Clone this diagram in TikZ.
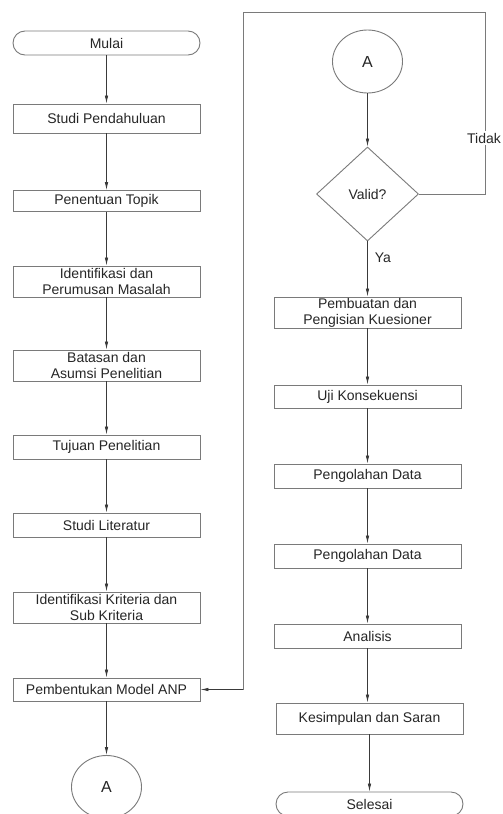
\documentclass[tikz,border=0pt]{standalone}
\usepackage{fontspec}
\setmainfont{Liberation Sans}
\usetikzlibrary{arrows.meta,shapes.geometric}
\definecolor{boxline}{HTML}{7A7A7A}
\definecolor{arrline}{HTML}{3A3A3A}
\tikzset{
  flowbox/.style={draw=boxline, line width=0.9pt, minimum width=187pt, inner sep=0pt, align=center, font=\fontsize{14}{16}\selectfont, text=black!85},
  termbox/.style={flowbox, rounded corners=12pt, minimum height=24pt},
  connector/.style={draw=boxline, line width=0.9pt, ellipse, minimum width=70pt, minimum height=63pt, inner sep=0pt, font=\fontsize{16}{18}\selectfont, text=black!85},
  decision/.style={draw=boxline, line width=0.9pt, diamond, minimum width=102pt, minimum height=94pt, inner sep=0pt, font=\fontsize{14}{16}\selectfont, text=black!85},
  flowarrow/.style={draw=arrline, line width=0.7pt, -{Latex[length=8pt,width=3.5pt]}},
  loopline/.style={draw=boxline, line width=0.9pt},
  lbl/.style={font=\fontsize{14}{16}\selectfont, text=black!85, inner sep=1pt}
}
\begin{document}
\begin{tikzpicture}[x=1pt,y=-1pt]
\useasboundingbox[fill=white] (0,0) rectangle (503,814);
% left column
\node[termbox] (mulai) at (106.5,43) {Mulai};
\node[flowbox, minimum height=29pt] (studi) at (106.5,118.5) {Studi Pendahuluan};
\node[flowbox, minimum height=21pt] (topik) at (106.5,201) {Penentuan Topik};
\node[flowbox, minimum height=31pt] (ident) at (106.5,281.5) {Identifikasi dan\\Perumusan Masalah};
\node[flowbox, minimum height=31pt] (batas) at (106.5,365.5) {Batasan dan\\Asumsi Penelitian};
\node[flowbox, minimum height=24pt] (tujuan) at (106.5,447) {Tujuan Penelitian};
\node[flowbox, minimum height=24pt] (lit) at (106.5,525) {Studi Literatur};
\node[flowbox, minimum height=31pt] (krit) at (106.5,607.5) {Identifikasi Kriteria dan\\Sub Kriteria};
\node[flowbox, minimum height=23pt] (anp) at (106.5,689.5) {Pembentukan Model ANP};
\node[connector] (conA1) at (106.5,787) {A};
% right column
\node[connector] (conA2) at (367.5,61.5) {A};
\node[decision] (valid) at (367.5,194) {Valid?};
\node[flowbox, minimum height=31pt] (kues) at (367.5,312.5) {Pembuatan dan\\Pengisian Kuesioner};
\node[flowbox, minimum height=23pt] (uji) at (367.5,396.5) {Uji Konsekuensi};
\node[flowbox, minimum height=24pt] (olah1) at (367.5,476) {Pengolahan Data};
\node[flowbox, minimum height=24pt] (olah2) at (367.5,556) {Pengolahan Data};
\node[flowbox, minimum height=24pt] (anal) at (367.5,636) {Analisis};
\node[flowbox, minimum height=31pt] (kesim) at (369.5,718.5) {Kesimpulan dan Saran};
\node[termbox] (selesai) at (369.5,804) {Selesai};
% loop coordinates
\coordinate (c1) at (485,194);
\coordinate (c2) at (485,12);
\coordinate (c3) at (243,12);
\coordinate (c4) at (243,689.5);
% arrows left
\draw[flowarrow] (mulai) -- (studi);
\draw[flowarrow] (studi) -- (topik);
\draw[flowarrow] (topik) -- (ident);
\draw[flowarrow] (ident) -- (batas);
\draw[flowarrow] (batas) -- (tujuan);
\draw[flowarrow] (tujuan) -- (lit);
\draw[flowarrow] (lit) -- (krit);
\draw[flowarrow] (krit) -- (anp);
\draw[flowarrow] (anp) -- (conA1);
% arrows right
\draw[flowarrow] (conA2) -- (valid);
\draw[flowarrow] (valid) -- node[lbl, right, xshift=6pt, pos=0.3] (ya) {Ya} (kues);
\draw[flowarrow] (kues) -- (uji);
\draw[flowarrow] (uji) -- (olah1);
\draw[flowarrow] (olah1) -- (olah2);
\draw[flowarrow] (olah2) -- (anal);
\draw[flowarrow] (anal.south) -- (anal.south |- kesim.north);
\draw[flowarrow] (kesim) -- (selesai);
% loop back
\draw[loopline] (valid.east) -- (c1) -- (c2) -- (c3) -- (c4);
\draw[flowarrow] (c4) -- (anp.east);
\node[lbl, fill=white, inner sep=2pt] (tidak) at (484,138) {Tidak};
\end{tikzpicture}
\end{document}
